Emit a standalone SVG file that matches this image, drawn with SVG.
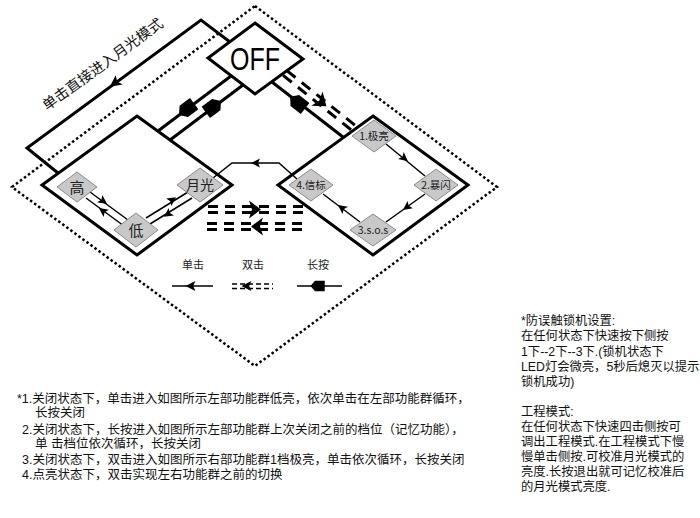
<svg xmlns="http://www.w3.org/2000/svg" xmlns:xlink="http://www.w3.org/1999/xlink" width="700" height="518" viewBox="0 0 700 518">
<style>
.thick{fill:none;stroke:#000;stroke-width:3;stroke-linejoin:miter}
.thin{fill:none;stroke:#000;stroke-width:1.5}
.dot{fill:none;stroke:#000;stroke-width:2.5;stroke-dasharray:2.5 2.5}
.node{fill:#c8c8c8;stroke:#8a8a8a;stroke-width:1}
.lbl{font-family:"Noto Sans CJK SC","Liberation Sans",sans-serif;fill:#222;text-anchor:middle}
.txt{font-family:"Noto Sans CJK SC","Liberation Sans",sans-serif;fill:#111}
.note{font-family:"Liberation Sans","Noto Sans CJK SC",sans-serif;fill:#111}
.dd{fill:none;stroke:#000;stroke-width:3}
</style>
<defs>
<path id="ah" d="M5,0 L-4,-4.5 L-2,0 L-4,4.5 Z" fill="#000"/>
<path id="lp" d="M10,0 L4,-7 L-9,-7 L-9,7 L4,7 Z" fill="#000"/>
<path id="dah" d="M7,0 L-5,-9 L-2,0 L-5,9 Z" fill="#000"/>
</defs>

<!-- outer dotted frame -->
<polygon class="dot" points="255,6 497,187 255,366 12,187"/>

<g id="connectors">
  <!-- single click straight into moonlight -->
  <polyline class="thick" points="230,42 201,20 27,148 58,173"/>
  <use href="#ah" transform="translate(115,83) rotate(143.6) scale(1.3)"/>
  <text class="txt" font-size="14.5" transform="translate(47,111) rotate(-36)">单击直接进入月光模式</text>

  <!-- OFF to left group (long press both ways) -->
  <line class="thick" x1="231" y1="76" x2="158" y2="131"/>
  <line class="thick" x1="243" y1="85" x2="170" y2="140"/>
  <use href="#lp" transform="translate(187,109) rotate(143)"/>
  <use href="#lp" transform="translate(213,107) rotate(-37)"/>

  <!-- OFF to right group -->
  <line class="thick" x1="272" y1="82" x2="343" y2="137"/>
  <use href="#lp" transform="translate(298,103) rotate(218)"/>
  <g transform="translate(285,73) rotate(38.7)">
    <line class="dd" x1="0" y1="-3" x2="87" y2="-3" stroke-dasharray="11 8"/>
    <line class="dd" x1="0" y1="3" x2="87" y2="3" stroke-dasharray="11 8"/>
    <use href="#dah" transform="translate(46,0)"/>
  </g>

  <!-- left group inner -->
  <line class="thin" x1="90" y1="192" x2="128" y2="220"/>
  <line class="thin" x1="86" y1="198" x2="124" y2="226"/>
  <use href="#ah" transform="translate(103,201) rotate(36)"/>
  <use href="#ah" transform="translate(103,211) rotate(216)"/>
  <line class="thin" x1="146" y1="218" x2="188" y2="192"/>
  <line class="thin" x1="150" y1="224" x2="192" y2="198"/>
  <use href="#ah" transform="translate(172,200) rotate(-35)"/>
  <use href="#ah" transform="translate(168,214) rotate(145)"/>

  <!-- right group inner -->
  <line class="thin" x1="386" y1="144" x2="425" y2="176"/>
  <use href="#ah" transform="translate(404,158) rotate(39)"/>
  <line class="thin" x1="425" y1="194" x2="386" y2="222"/>
  <use href="#ah" transform="translate(407,207) rotate(144)"/>
  <line class="thin" x1="360" y1="222" x2="323" y2="194"/>
  <use href="#ah" transform="translate(342,208) rotate(217)"/>

  <!-- beacon back to moonlight -->
  <polyline class="thin" stroke-width="2" points="297,179 279,163 232,163 213,178"/>
  <use href="#ah" transform="translate(256,163) rotate(180)"/>

  <!-- middle double-click switching -->
  <g stroke-dasharray="10 7">
    <line class="dd" x1="208" y1="206.5" x2="303" y2="206.5"/>
    <line class="dd" x1="208" y1="212.5" x2="303" y2="212.5"/>
    <line class="dd" x1="207" y1="223.5" x2="302" y2="223.5"/>
    <line class="dd" x1="207" y1="229.5" x2="302" y2="229.5"/>
  </g>
  <use href="#dah" transform="translate(254,209.5)"/>
  <use href="#dah" transform="translate(258,226.5) rotate(180)"/>
</g>

<!-- group frames -->
<g id="left-group"><polygon class="thick" points="137,116 232,185 137,255 42,185"/></g>
<g id="right-group"><polygon class="thick" points="373,116 468,185 373,255 278,185"/></g>

<g id="off">
  <polygon class="thick" fill="#fff" points="255,23 303,59 255,94 208,58"/>
  <text x="255" y="70" font-family="Liberation Sans,Arial,sans-serif" font-size="32" text-anchor="middle" textLength="50" lengthAdjust="spacingAndGlyphs">OFF</text>
</g>

<g id="gao"><polygon class="node" points="77,172 97,187 77,202 57,187"/><text class="lbl" x="77" y="192.5" font-size="15">高</text></g>
<g id="di"><polygon class="node" points="136,213 158,230 136,247 114,230"/><text class="lbl" x="136" y="236" font-size="15">低</text></g>
<g id="yueguang"><polygon class="node" points="200,168 223,185 200,202 177,185"/><text class="lbl" x="200" y="190" font-size="14">月光</text></g>

<g id="jiliang"><polygon class="node" points="374,120 396,136 374,152 352,136"/><text class="lbl" x="374" y="140" font-size="10.5">1.极亮</text></g>
<g id="baoshan"><polygon class="node" points="436,169 458,185 436,201 414,185"/><text class="lbl" x="436" y="189" font-size="10.5">2.暴闪</text></g>
<g id="sos"><polygon class="node" points="373,214 396,230 373,246 350,230"/><text class="lbl" x="373" y="234" font-size="10.5">3.s.o.s</text></g>
<g id="xinbiao"><polygon class="node" points="311,169 333,185 311,201 289,185"/><text class="lbl" x="311" y="189" font-size="10.5">4.信标</text></g>

<!-- legend -->
<g id="legend">
  <text class="lbl" x="193" y="269" font-size="11">单击</text>
  <text class="lbl" x="253" y="269" font-size="11">双击</text>
  <text class="lbl" x="318" y="269" font-size="11">长按</text>
  <line class="thin" stroke-width="2.5" x1="172" y1="286" x2="213" y2="286"/>
  <use href="#ah" transform="translate(191,286) rotate(180) scale(1.1)"/>
  <line class="thin" stroke-width="2" x1="232" y1="284" x2="273" y2="284" stroke-dasharray="5 3"/>
  <line class="thin" stroke-width="2" x1="232" y1="288.5" x2="273" y2="288.5" stroke-dasharray="5 3"/>
  <use href="#ah" transform="translate(247,286) rotate(180) scale(1.1)"/>
  <line class="thin" stroke-width="2.5" x1="297" y1="286" x2="342" y2="286"/>
  <use href="#lp" transform="translate(318,286) rotate(180) scale(0.75)"/>
</g>

<!-- notes -->
<g class="note" font-size="12.5">
  <text x="17" y="402.5">*1.关闭状态下，单击进入如图所示左部功能群低亮，依次单击在左部功能群循环，</text>
  <text x="35" y="417">长按关闭</text>
  <text x="22" y="433.5">2.关闭状态下，长按进入如图所示左部功能群上次关闭之前的档位（记忆功能），</text>
  <text x="35" y="448">单 击档位依次循环，长按关闭</text>
  <text x="22" y="464">3.关闭状态下，双击进入如图所示右部功能群1档极亮，单击依次循环，长按关闭</text>
  <text x="22" y="479">4.点亮状态下，双击实现左右功能群之前的切换</text>
</g>
<g class="note" font-size="12.3">
  <text x="521" y="325">*防误触锁机设置:</text>
  <text x="521" y="340">在任何状态下快速按下侧按</text>
  <text x="521" y="356">1下--2下--3下.(锁机状态下</text>
  <text x="521" y="371">LED灯会微亮，5秒后熄灭以提示</text>
  <text x="521" y="386">锁机成功)</text>
  <text x="521" y="416">工程模式:</text>
  <text x="521" y="431">在任何状态下快速四击侧按可</text>
  <text x="521" y="446">调出工程模式.在工程模式下慢</text>
  <text x="521" y="461">慢单击侧按.可校准月光模式的</text>
  <text x="521" y="476">亮度.长按退出就可记忆校准后</text>
  <text x="521" y="491">的月光模式亮度.</text>
</g>
</svg>
